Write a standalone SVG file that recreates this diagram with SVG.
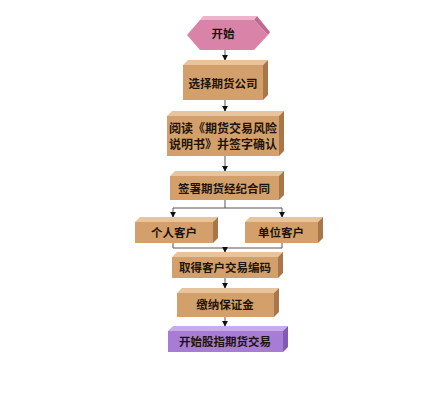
<svg xmlns="http://www.w3.org/2000/svg" width="444" height="400" viewBox="0 0 444 400">
<defs>
<style>
.ft{fill:#d3a06c}.tp{fill:#e8c49c}.sd{fill:#a87648}
.pf{fill:#a77cd4}.pt{fill:#c9aaea}.ps{fill:#8459b4}
.kf{fill:#d983a8}.kt{fill:#edb4cc}.ks{fill:#c06a92}
text{font-family:"Noto Sans CJK SC","Noto Sans",sans-serif;font-size:11.5px;font-weight:bold;fill:#1e140c;text-anchor:middle;dominant-baseline:central}
.ln{fill:none;stroke:#555;stroke-width:1}
</style>
<marker id="ah" viewBox="0 0 8 8" refX="7" refY="4" markerWidth="6" markerHeight="6" orient="auto" markerUnits="userSpaceOnUse">
<path d="M0,0 L8,4 L0,8 Z" fill="#111"/>
</marker>
</defs>
<rect width="444" height="400" fill="#fff"/>
<g id="connectors">
<line class="ln" x1="225" y1="50" x2="225" y2="60" marker-end="url(#ah)"/>
<line class="ln" x1="225" y1="100" x2="225" y2="111" marker-end="url(#ah)"/>
<line class="ln" x1="225" y1="156" x2="225" y2="171" marker-end="url(#ah)"/>
<polyline class="ln" points="225,200 225,208 173,208 173,217" marker-end="url(#ah)"/>
<polyline class="ln" points="225,208 282,208 282,217" marker-end="url(#ah)"/>
<polyline class="ln" points="173,243 173,248 282,248 282,243"/>
<line class="ln" x1="225" y1="248" x2="225" y2="252" marker-end="url(#ah)"/>
<line class="ln" x1="225" y1="278" x2="225" y2="288" marker-end="url(#ah)"/>
<line class="ln" x1="225" y1="317" x2="225" y2="326" marker-end="url(#ah)"/>
</g>
<g id="start">
<polygon class="kt" points="200,20 203,16 257,16 254,20"/>
<polygon class="ks" points="254,20 257,16 270,32 268,35"/>
<polygon class="kf" points="187,35 200,20 254,20 268,35 254,50 200,50"/>
<text x="223" y="33">开始</text>
</g>
<g id="n1">
<polygon class="tp" points="183,65 188,60 268,60 263,65"/>
<polygon class="sd" points="263,65 268,60 268,95 263,100"/>
<rect class="ft" x="183" y="65" width="80" height="35"/>
<text x="223" y="83">选择期货公司</text>
</g>
<g id="n2">
<polygon class="tp" points="167,116 172,111 284,111 279,116"/>
<polygon class="sd" points="279,116 284,111 284,151 279,156"/>
<rect class="ft" x="167" y="116" width="112" height="40"/>
<text x="223" y="127" style="font-size:12px">阅读《期货交易风险</text>
<text x="223" y="143" style="font-size:12px">说明书》并签字确认</text>
</g>
<g id="n3">
<polygon class="tp" points="170,176 175,171 284,171 279,176"/>
<polygon class="sd" points="279,176 284,171 284,195 279,200"/>
<rect class="ft" x="170" y="176" width="109" height="24"/>
<text x="224" y="188">签署期货经纪合同</text>
</g>
<g id="n4">
<polygon class="tp" points="135,222 140,217 218,217 213,222"/>
<polygon class="sd" points="213,222 218,217 218,238 213,243"/>
<rect class="ft" x="135" y="222" width="78" height="21"/>
<text x="174" y="232">个人客户</text>
</g>
<g id="n5">
<polygon class="tp" points="245,222 250,217 323,217 318,222"/>
<polygon class="sd" points="318,222 323,217 323,238 318,243"/>
<rect class="ft" x="245" y="222" width="73" height="21"/>
<text x="281" y="232">单位客户</text>
</g>
<g id="n6">
<polygon class="tp" points="172,257 177,252 283,252 278,257"/>
<polygon class="sd" points="278,257 283,252 283,273 278,278"/>
<rect class="ft" x="172" y="257" width="106" height="21"/>
<text x="225" y="267">取得客户交易编码</text>
</g>
<g id="n7">
<polygon class="tp" points="177,293 182,288 279,288 274,293"/>
<polygon class="sd" points="274,293 279,288 279,312 274,317"/>
<rect class="ft" x="177" y="293" width="97" height="24"/>
<text x="225" y="304">缴纳保证金</text>
</g>
<g id="n8">
<polygon class="pt" points="168,331 173,326 288,326 283,331"/>
<polygon class="ps" points="283,331 288,326 288,347 283,352"/>
<rect class="pf" x="168" y="331" width="115" height="21"/>
<text x="225" y="341">开始股指期货交易</text>
</g>
</svg>
